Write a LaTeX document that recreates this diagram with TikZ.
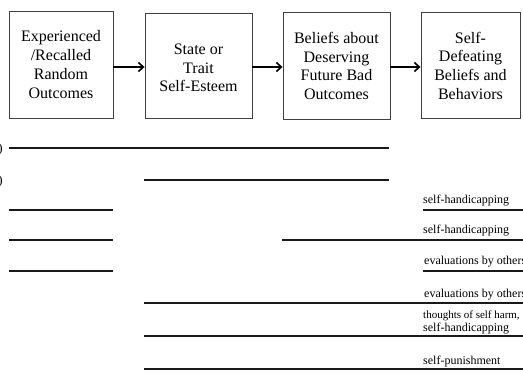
\documentclass[tikz,border=0pt]{standalone}
\usepackage{fontspec}
\setmainfont{Liberation Serif}
\usetikzlibrary{arrows.meta}
\begin{document}
\begin{tikzpicture}[x=1pt,y=-1pt,
  stagebox/.style={draw=black!75,line width=0.9pt,inner sep=0pt},
  stagetext/.style={font=\fontsize{16}{18.7}\selectfont,align=center},
  flow/.style={line width=2pt,-{Straight Barb[length=5pt,width=9pt,line width=1.6pt]}},
  bar/.style={line width=2pt,black!90},
  lab/.style={font=\fontsize{12}{12}\selectfont,anchor=base west,inner sep=0pt}]
\useasboundingbox (0,0) rectangle (523,373);
\clip (0,0) rectangle (523,373);
% boxes
\node[stagebox,minimum width=104pt,minimum height=107pt] (b1) at (61,64.5) {};
\node[stagebox,minimum width=107pt,minimum height=105pt] (b2) at (198.5,65.5) {};
\node[stagebox,minimum width=107pt,minimum height=107pt] (b3) at (336.5,65.5) {};
\node[stagebox,minimum width=99pt,minimum height=106pt] (b4) at (470.5,65) {};
\node[stagetext] (t1) at (b1.center) {Experienced\\/Recalled\\Random\\Outcomes};
\node[stagetext] (t2) at (198.5,68) {State or\\Trait\\Self-Esteem};
\node[stagetext] (t3) at (336.5,66) {Beliefs about\\Deserving\\Future Bad\\Outcomes};
\node[stagetext] (t4) at (470.5,65.5) {Self-\\Defeating\\Beliefs and\\Behaviors};
% arrows
\draw[flow] (b1.east |- 0,67) -- (b2.west |- 0,67);
\draw[flow] (b2.east |- 0,67) -- (b3.west |- 0,67);
\draw[flow] (b3.east |- 0,67) -- (b4.west |- 0,67);
% clipped fragments at left edge
\node[anchor=base east,inner sep=0pt,font=\fontsize{13}{13}\selectfont] (f1) at (3,152) {)};
\node[anchor=base east,inner sep=0pt,font=\fontsize{13}{13}\selectfont] (f2) at (3,184) {)};
% bars
\draw[bar] (9,148) -- (389,148);
\draw[bar] (144,180) -- (389,180);
\draw[bar] (9,210) -- (113,210);
\draw[bar] (423,210) -- (523,210);
\draw[bar] (9,240) -- (113,240);
\draw[bar] (282,239.5) -- (523,239.5);
\draw[bar] (9,271) -- (113,271);
\draw[bar] (423,271) -- (523,271);
\draw[bar] (144,303) -- (523,303);
\draw[bar] (144,336) -- (523,336);
\draw[bar] (144,369) -- (523,369);
% labels
\node[lab] (l1) at (423,203) {self-handicapping};
\node[lab] (l2) at (423,233) {self-handicapping};
\node[lab] (l3) at (424,264) {evaluations by others};
\node[lab] (l4) at (424,297) {evaluations by others};
\node[lab,font=\fontsize{11}{12}\selectfont] (l5) at (423,318.5) {thoughts of self harm,};
\node[lab] (l6) at (423,331.5) {self-handicapping};
\node[lab] (l7) at (423,364) {self-punishment};
\end{tikzpicture}
\end{document}
